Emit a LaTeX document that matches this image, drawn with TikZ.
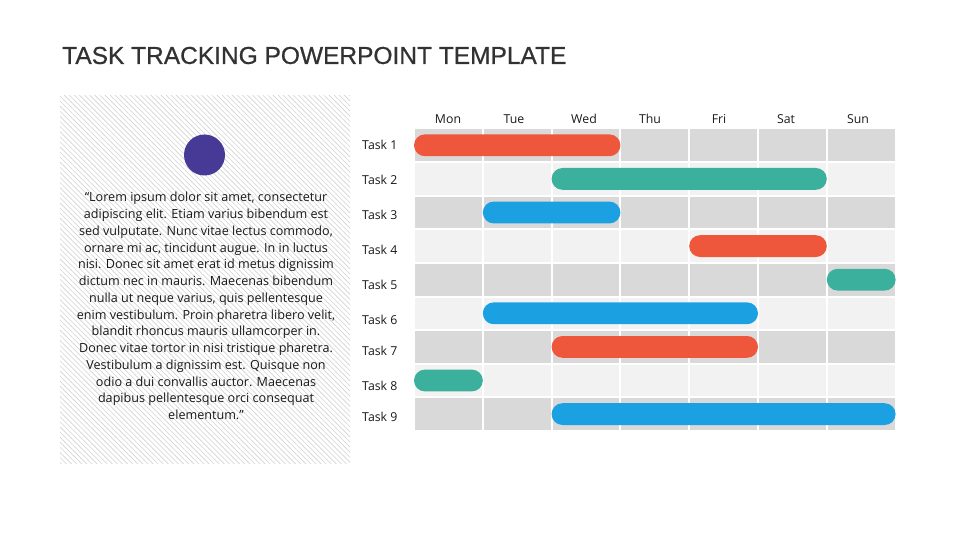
\documentclass[tikz,border=0pt]{standalone}
\usepackage{fontspec}
\setmainfont{Liberation Sans}
\newfontfamily\segoe{Open Sans}
\newfontfamily\titlefont[FakeBold=0.7]{Liberation Sans}
\usetikzlibrary{patterns.meta}

\begin{document}
\begin{tikzpicture}[x=1pt, y=-1pt,
    % Styles
    daylabel/.style={
        font=\segoe\fontsize{12.3}{14}\selectfont,
        text=labelgray, inner sep=0pt
    },
    tasklabel/.style={
        font=\segoe\fontsize{12.3}{14}\selectfont,
        text=labelgray, anchor=west, inner sep=0pt
    },
    taskbar/.style={
        rounded corners=10.9pt
    },
    panel/.style={
        pattern={Lines[angle=-45, distance=3.6pt, line width=0.6pt]},
        pattern color=hatchgray
    },
]
% Define colors
\definecolor{titlegray}{RGB}{50,50,50}
\definecolor{labelgray}{RGB}{25,25,25}
\definecolor{hatchgray}{RGB}{210,210,210}
\definecolor{celldark}{RGB}{217,217,217}
\definecolor{celllight}{RGB}{242,242,242}
\definecolor{barred}{RGB}{238,87,59}
\definecolor{barteal}{RGB}{59,176,156}
\definecolor{barblue}{RGB}{27,161,226}
\definecolor{dotpurple}{RGB}{70,58,150}

\useasboundingbox (0,0) rectangle (960,540);

% Title
\node[anchor=west, inner sep=0pt, font=\titlefont\fontsize{24.5}{28}\selectfont, text=titlegray]
    (title) at (62,55.5) {TASK TRACKING POWERPOINT TEMPLATE};

% Hatched side panel
\fill[white] (60,96) rectangle (350,463);
\fill[panel] (60,96) rectangle (350,463);

% Purple dot
\node[circle, fill=dotpurple, minimum size=41pt, inner sep=0pt] (dot) at (204.5,155) {};

% Quote text
\node[font=\segoe\fontsize{12.6}{16.77}\selectfont, text=labelgray, align=center, inner sep=0pt]
    (quote) at (206,306) {%
    “Lorem ipsum dolor sit amet, consectetur\\
    adipiscing elit. Etiam varius bibendum est\\
    sed vulputate. Nunc vitae lectus commodo,\\
    ornare mi ac, tincidunt augue. In in luctus\\
    nisi. Donec sit amet erat id metus dignissim\\
    dictum nec in mauris. Maecenas bibendum\\
    nulla ut neque varius, quis pellentesque\\
    enim vestibulum. Proin pharetra libero velit,\\
    blandit rhoncus mauris ullamcorper in.\\
    Donec vitae tortor in nisi tristique pharetra.\\
    Vestibulum a dignissim est. Quisque non\\
    odio a dui convallis auctor. Maecenas\\
    dapibus pellentesque orci consequat\\
    elementum.”};

% Grid cells
\foreach \r in {0,2,4,6,8} {
    \foreach \c in {0,...,6} {
        \fill[celldark] ({415+68.8*\c},{129.5+33.6*\r}) rectangle +(66.8,31.6);
    }
}
\foreach \r in {1,3,5,7} {
    \foreach \c in {0,...,6} {
        \fill[celllight] ({415+68.8*\c},{129.5+33.6*\r}) rectangle +(66.8,31.6);
    }
}

% Day labels
\foreach \d/\x [count=\i from 0] in {Mon/448,Tue/514,Wed/584,Thu/650,Fri/719,Sat/786,Sun/858} {
    \node[daylabel] (day\i) at (\x,119) {\d};
}

% Task labels
\foreach \i/\y in {1/145,2/180,3/215,4/250,5/285,6/320,7/351,8/386,9/417} {
    \node[tasklabel] (task\i) at (362,\y) {Task \i};
}

% Task bars
\foreach \a/\b/\r/\col in {0/2/1/barred, 2/5/2/barteal, 1/2/3/barblue,
                           4/5/4/barred, 6/6/5/barteal, 1/4/6/barblue,
                           2/4/7/barred, 0/0/8/barteal, 2/6/9/barblue} {
    \fill[taskbar, \col] ({415+68.8*\a-1},{129.5+33.6*(\r-1)+4.9})
        rectangle ({415+68.8*\b+66.8+1},{129.5+33.6*(\r-1)+26.7});
}

\end{tikzpicture}
\end{document}
